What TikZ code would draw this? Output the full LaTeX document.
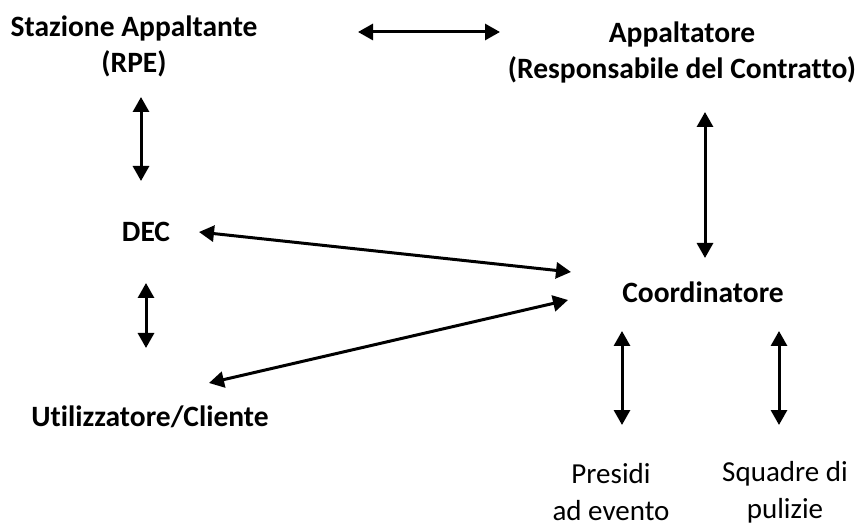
\documentclass[tikz,border=0pt]{standalone}
\usepackage{fontspec}
\setmainfont[Ligatures=NoCommon]{Carlito}
\usetikzlibrary{arrows.meta}
\tikzset{
  lbl/.style={font=\fontsize{29.5}{36}\selectfont\bfseries, align=center, inner sep=0pt, anchor=base},
  lblr/.style={font=\fontsize{29}{37}\selectfont, align=center, inner sep=0pt, anchor=base},
  link/.style={line width=3pt, {Triangle[width=16pt,length=15pt]}-{Triangle[width=16pt,length=15pt]}}
}
\begin{document}
\begin{tikzpicture}[x=1pt,y=-1pt]
\useasboundingbox (0,0) rectangle (862,526);
\node[lbl] (sa) at (134,73) {Stazione Appaltante\\(RPE)};
\node[lbl] (app) at (682,79) {Appaltatore\\(Responsabile del Contratto)};
\node[lbl] (dec) at (146,242) {DEC};
\node[lbl] (coord) at (703,303) {Coordinatore};
\node[lbl] (uc) at (150,426) {Utilizzatore/Cliente};
\node[lblr] (pres) at (611,520) {Presidi\\ad evento};
\node[lblr] (squ) at (785,518) {Squadre di\\pulizie};
\coordinate (h1) at (358,32); \coordinate (h2) at (500,32);
\coordinate (v1a) at (141,97); \coordinate (v1b) at (141,181);
\coordinate (v2a) at (705,112); \coordinate (v2b) at (705,258);
\coordinate (d1) at (199,232); \coordinate (d2) at (571,272);
\coordinate (v3a) at (146,283); \coordinate (v3b) at (146,348);
\coordinate (u1) at (209,383); \coordinate (u2) at (568,300);
\coordinate (p1) at (622,331); \coordinate (p2) at (622,425);
\coordinate (s1) at (779,331); \coordinate (s2) at (779,425);
\draw[link] (h1) -- (h2);
\draw[link] (v1a) -- (v1b);
\draw[link] (v2a) -- (v2b);
\draw[link] (d1) -- (d2);
\draw[link] (v3a) -- (v3b);
\draw[link] (u1) -- (u2);
\draw[link] (p1) -- (p2);
\draw[link] (s1) -- (s2);
\end{tikzpicture}
\end{document}
